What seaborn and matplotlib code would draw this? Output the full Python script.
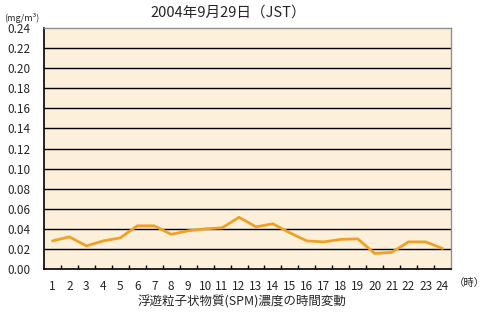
import matplotlib
matplotlib.use("Agg")
import matplotlib.pyplot as plt
import seaborn as sns
import pandas as pd
from matplotlib.ticker import FixedLocator

hours = list(range(1, 25))
spm = [0.028, 0.032, 0.023, 0.028, 0.031, 0.043, 0.043, 0.0345, 0.038, 0.040,
       0.041, 0.0515, 0.042, 0.045, 0.036, 0.028, 0.027, 0.0295, 0.030, 0.0155,
       0.0165, 0.027, 0.027, 0.0205]
yticks = [0.00, 0.02, 0.04, 0.06, 0.08, 0.10, 0.12, 0.14, 0.16, 0.18, 0.20, 0.22, 0.24]

title = "2004年9月29日（JST）"
unit = "(mg/m³)"
xlabel = "浮遊粒子状物質(SPM)濃度の時間変動"
xunit = "（時）"

sns.set_theme(style="white")
plt.rcParams['font.family'] = ['Noto Sans CJK JP', 'DejaVu Sans']

df = pd.DataFrame({"hour": hours, "spm": spm})

fig = plt.figure(figsize=(4.9, 3.3), dpi=100)
ax = fig.add_axes([44/490, 1 - 269/330, (451 - 44)/490, (269 - 28)/330])
ax.set_facecolor("#FCF0DB")

for v in yticks[1:-1]:
    ax.axhline(v, color="black", lw=1.0, zorder=1)

sns.lineplot(data=df, x="hour", y="spm", ax=ax, color="#F0A024", lw=2.0, zorder=3)

ax.set_xlim(0.5, 24.5)
ax.set_ylim(0, 0.24)
ax.set_xticks(hours)
ax.set_xticklabels([str(h) for h in hours], fontsize=8.5)
ax.xaxis.set_minor_locator(FixedLocator([h + 0.5 for h in hours[:-1]]))
ax.tick_params(axis="x", which="major", length=0, pad=8)
ax.tick_params(axis="x", which="minor", direction="in", length=3, width=1, color="black", bottom=True)
ax.set_yticks(yticks)
ax.set_yticklabels([f"{v:.2f}" for v in yticks], fontsize=8.5)
ax.tick_params(axis="y", length=0, pad=10)
ax.set_xlabel("")
ax.set_ylabel("")

for side in ["left", "bottom"]:
    ax.spines[side].set_color("black")
    ax.spines[side].set_linewidth(1.2)
for side in ["top", "right"]:
    ax.spines[side].set_color("#909090")
    ax.spines[side].set_linewidth(1.0)

fig.text(228/490, 1 - 13/330, title, ha="center", va="center", fontsize=10.5)
fig.text(4/490, 1 - 18/330, unit, ha="left", va="center", fontsize=6.5)
fig.text(242/490, 1 - 302/330, xlabel, ha="center", va="center", fontsize=9)
fig.text(454/490, 1 - 283/330, xunit, ha="left", va="center", fontsize=7.5)

fig.savefig("out.png", dpi=100)
